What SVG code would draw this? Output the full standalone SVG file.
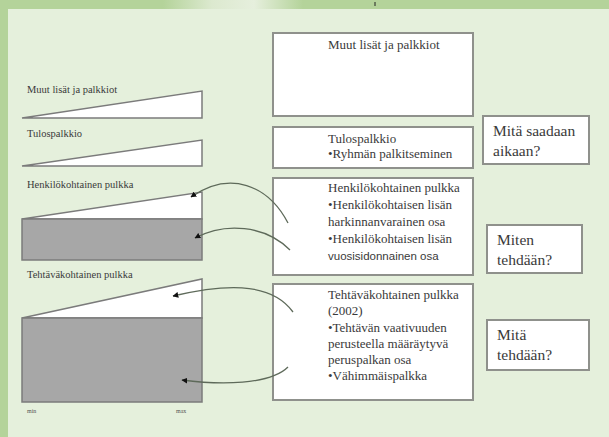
<svg xmlns="http://www.w3.org/2000/svg" width="609" height="437" viewBox="0 0 609 437">
<defs>
<linearGradient id="banner" x1="0" y1="0" x2="1" y2="0">
<stop offset="0" stop-color="#b4d39a"/>
<stop offset="0.35" stop-color="#dce9cf"/>
<stop offset="0.65" stop-color="#e6efdd"/>
<stop offset="1" stop-color="#b4d39a"/>
</linearGradient>
<marker id="ah" viewBox="0 0 10 10" refX="9" refY="5" markerWidth="4.5" markerHeight="4.5" orient="auto-start-reverse">
<path d="M0,0 L10,5 L0,10 z" fill="#111"/>
</marker>
<style>
.box{fill:#fff;stroke:#8f918c;stroke-width:2}
.bar{fill:#fff;stroke:#7b7b7b;stroke-width:1.5}
.gray{fill:#a7a7a7;stroke:#7b7b7b;stroke-width:1.5}
text{font-family:"Liberation Serif","Times New Roman","DejaVu Serif",serif;fill:#3a3a3a}
.t{font-size:13px}
.l{font-size:10.5px}
.q{font-size:15.5px}
.s{font-size:6px;fill:#555}
.c{fill:none;stroke:#5e6a5a;stroke-width:1.3}
</style>
</defs>
<rect x="0" y="0" width="609" height="437" fill="#b4d39a"/>
<rect x="163" y="0" width="140" height="9" fill="url(#banner)"/>
<rect x="8" y="9" width="601" height="428" fill="#e5f0dc"/>
<line x1="375" y1="2" x2="375" y2="6" stroke="#222" stroke-width="1"/>

<g id="left-muut">
<text class="l" x="27" y="93">Muut lisät ja palkkiot</text>
<polygon class="bar" points="22,118 202,91 202,118"/>
</g>
<g id="left-tulos">
<text class="l" x="27" y="137">Tulospalkkio</text>
<polygon class="bar" points="22,166 202,140 202,166"/>
</g>
<g id="left-henk">
<text class="l" x="27" y="188">Henkilökohtainen pulkka</text>
<polygon class="bar" points="22,219 202,192 202,219"/>
<rect class="gray" x="22" y="219" width="180" height="41"/>
</g>
<g id="left-teht">
<text class="l" x="27" y="278">Tehtäväkohtainen pulkka</text>
<polygon class="bar" points="22,318 202,279 202,318"/>
<rect class="gray" x="22" y="318" width="180" height="84"/>
<text class="s" x="27" y="413">min</text>
<text class="s" x="176" y="413">max</text>
</g>

<g id="mid-muut">
<rect class="box" x="273" y="33" width="200" height="83"/>
<text class="t" x="328" y="49">Muut lisät ja palkkiot</text>
</g>
<g id="mid-tulos">
<rect class="box" x="273" y="127" width="200" height="41"/>
<text class="t" x="328" y="143">Tulospalkkio</text>
<text class="t" x="328" y="158">•Ryhmän palkitseminen</text>
</g>
<g id="mid-henk">
<rect class="box" x="273" y="178" width="200" height="97"/>
<text class="t" x="328" y="192">Henkilökohtainen pulkka</text>
<text class="t" x="328" y="209">•Henkilökohtaisen lisän</text>
<text class="t" x="328" y="226">harkinnanvarainen osa</text>
<text class="t" x="328" y="243">•Henkilökohtaisen lisän</text>
<text class="t" x="328" y="260" style="font-family:'Liberation Sans',Arial,sans-serif;font-size:11.5px">vuosisidonnainen osa</text>
</g>
<g id="mid-teht">
<rect class="box" x="273" y="284" width="200" height="116"/>
<text class="t" x="328" y="299">Tehtäväkohtainen pulkka</text>
<text class="t" x="328" y="315">(2002)</text>
<text class="t" x="328" y="332">•Tehtävän vaativuuden</text>
<text class="t" x="328" y="348">perusteella määräytyvä</text>
<text class="t" x="328" y="364">peruspalkan osa</text>
<text class="t" x="328" y="380">•Vähimmäispalkka</text>
</g>

<g id="q1">
<rect class="box" x="483" y="116" width="106" height="48"/>
<text class="q" x="493" y="136">Mitä saadaan</text>
<text class="q" x="493" y="156">aikaan?</text>
</g>
<g id="q2">
<rect class="box" x="487" y="225" width="95" height="48"/>
<text class="q" x="497" y="245">Miten</text>
<text class="q" x="497" y="265">tehdään?</text>
</g>
<g id="q3">
<rect class="box" x="487" y="320" width="102" height="50"/>
<text class="q" x="497" y="340">Mitä</text>
<text class="q" x="497" y="360">tehdään?</text>
</g>

<g id="connectors">
<path class="c" d="M288,223 C268,185 230,170 191,197" marker-end="url(#ah)"/>
<path class="c" d="M290,250 C265,225 225,222 195,238" marker-end="url(#ah)"/>
<path class="c" d="M293,312 C270,280 220,285 173,296" marker-end="url(#ah)"/>
<path class="c" d="M288,367 C270,385 220,385 182,380" marker-end="url(#ah)"/>
</g>
</svg>
